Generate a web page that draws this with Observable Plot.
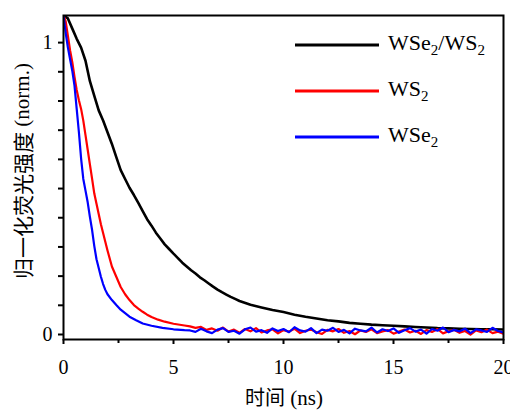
<!DOCTYPE html>
<html><head><meta charset="utf-8">
<script src="https://cdn.jsdelivr.net/npm/d3@7"></script>
<script src="https://cdn.jsdelivr.net/npm/@observablehq/plot@0.6"></script>
<style>
body{margin:0;background:#fff}
#chart{width:510px;height:411px}
#chart svg text, #chart svg tspan{font-family:"Liberation Serif"}
#chart svg text.cjk, #chart svg tspan.cjk{font-family:"Noto Sans CJK SC"}
</style>
</head><body><div id="chart"></div>
<script>
// ---- data ----
const seriesNames = ["WSe2/WS2", "WS2", "WSe2"];
const seriesColors = ["#000000", "#ff0000", "#0000ff"];
const yLabelZh = "\u5f52\u4e00\u5316\u8367\u5149\u5f3a\u5ea6"; // 归一化荧光强度
const xLabelZh = "\u65f6\u95f4"; // 时间

const blackT = [0,0.2,0.4,0.6,0.8,1.0,1.2,1.4,1.6,1.8,2.0,2.2,2.4,2.6,2.8,3.0,3.2,3.4,3.6,3.8,4.0,4.2,4.4,4.6,4.8,5.0,5.2,5.4,5.6,5.8,6.0,6.2,6.4,6.6,6.8,7.0,7.2,7.4,7.6,7.8,8.0,8.5,9.0,9.5,10,10.5,11,11.5,12,12.5,13,13.5,14,14.5,15,15.5,16,16.5,17,17.5,18,18.5,19,19.5,20];
const blackV = [1.11,1.10,1.065,1.03,1.00,0.955,0.885,0.835,0.785,0.75,0.71,0.67,0.625,0.58,0.55,0.52,0.495,0.468,0.44,0.412,0.39,0.366,0.346,0.326,0.31,0.294,0.279,0.263,0.25,0.237,0.226,0.213,0.203,0.192,0.181,0.171,0.162,0.154,0.146,0.139,0.132,0.119,0.110,0.101,0.094,0.085,0.078,0.072,0.066,0.062,0.057,0.054,0.051,0.049,0.047,0.045,0.043,0.041,0.039,0.038,0.037,0.036,0.035,0.035,0.034];

const redT = [0,0.1,0.2,0.3,0.4,0.5,0.6,0.7,0.8,0.9,1.0,1.1,1.2,1.3,1.4,1.5,1.6,1.7,1.8,1.9,2.0,2.2,2.4,2.6,2.8,3.0,3.2,3.4,3.6,3.8,4.0,4.3,4.6,5.0,5.5];
const redV = [1.11,1.09,1.04,0.99,0.95,0.90,0.855,0.82,0.79,0.75,0.70,0.65,0.60,0.55,0.50,0.465,0.43,0.395,0.365,0.335,0.305,0.25,0.215,0.18,0.155,0.135,0.118,0.106,0.095,0.085,0.077,0.068,0.061,0.054,0.048];

const blueT = [0,0.1,0.2,0.3,0.4,0.5,0.6,0.7,0.8,0.9,1.0,1.1,1.2,1.3,1.4,1.5,1.6,1.7,1.8,1.9,2.0,2.2,2.4,2.6,2.8,3.0,3.3,3.6,4.0,4.5,5.0,5.5];
const blueV = [1.11,1.05,1.00,0.96,0.92,0.87,0.79,0.71,0.62,0.55,0.51,0.47,0.42,0.375,0.32,0.275,0.245,0.215,0.19,0.17,0.155,0.135,0.118,0.102,0.09,0.078,0.066,0.055,0.047,0.04,0.035,0.032];

// noisy baseline after the decay (sampled every 0.25 ns from 5.75 ns)
const floorStart = 5.75, floorStep = 0.25;
const redFloor = [0.045,0.040,0.043,0.033,0.038,0.030,0.041,0.027,0.034,0.023,
  0.036,0.028,0.039,0.024,0.031,0.035,0.021,0.032,0.027,0.037,
  0.022,0.030,0.034,0.025,0.019,0.033,0.028,0.036,0.023,0.029,
  0.018,0.031,0.026,0.035,0.022,0.028,0.032,0.020,0.027,0.034,
  0.024,0.030,0.019,0.032,0.026,0.036,0.021,0.028,0.033,0.023,
  0.029,0.017,0.031,0.025,0.034,0.022,0.027,0.020];
const blueFloor = [0.031,0.026,0.037,0.028,0.022,0.034,0.039,0.026,0.030,0.020,
  0.035,0.041,0.027,0.032,0.023,0.038,0.029,0.036,0.025,0.042,
  0.031,0.027,0.039,0.022,0.034,0.030,0.040,0.026,0.033,0.021,
  0.037,0.031,0.028,0.041,0.024,0.035,0.029,0.038,0.023,0.032,
  0.039,0.027,0.034,0.020,0.036,0.030,0.041,0.025,0.033,0.028,
  0.037,0.022,0.035,0.031,0.026,0.040,0.029,0.024];

const xTicks = [0,5,10,15,20];
const xMinorTicks = [2.5,7.5,12.5,17.5];
const yTicks = [0,0.1,0.2,0.3,0.4,0.5,0.6,0.7,0.8,0.9,1.0];
const yTickLabels = {0:"0", 1:"1"};

// ---- build tables ----
const pair = (T, V) => T.map((t, i) => ({t, v: V[i]}));
const floorPts = F => F.map((v, i) => ({t: floorStart + i * floorStep, v}));
const black = pair(blackT, blackV);
const red = pair(redT, redV).concat(floorPts(redFloor));
const blue = pair(blueT, blueV).concat(floorPts(blueFloor));

const chart = Plot.plot({
  width: 510, height: 411,
  marginLeft: 63, marginRight: 7, marginTop: 15, marginBottom: 72,
  style: {fontFamily: "Liberation Serif", fontSize: "20px", color: "#000", background: "#fff", overflow: "visible"},
  x: {domain: [0, 20]},
  y: {domain: [0, 1.11]},
  marks: [
    Plot.line(black, {x: "t", y: "v", stroke: seriesColors[0], strokeWidth: 2.6, clip: true}),
    Plot.line(red, {x: "t", y: "v", stroke: seriesColors[1], strokeWidth: 2.2, clip: true}),
    Plot.line(blue, {x: "t", y: "v", stroke: seriesColors[2], strokeWidth: 2.2, clip: true}),
    Plot.axisX({ticks: xMinorTicks, tickSize: 4, tickFormat: () => "", label: null, strokeWidth: 2}),
    Plot.axisX({ticks: xTicks, tickSize: 5, tickPadding: 15, fontSize: 20, label: null, strokeWidth: 2}),
    Plot.axisY({ticks: yTicks, tickSize: 5, tickPadding: 6, fontSize: 20, dy: -5,
      tickFormat: d => yTickLabels[Math.round(d * 10) / 10] ?? "", label: null, strokeWidth: 2}),
    Plot.frame({stroke: "#000", strokeWidth: 2})
  ]
});
document.getElementById("chart").appendChild(chart);

const svg = d3.select(chart);

// y label
const yl = svg.append("text")
  .attr("transform", "translate(22,171) rotate(-90)")
  .attr("text-anchor", "middle").attr("dominant-baseline", "central")
  .attr("fill", "#000");
yl.append("tspan").attr("class", "cjk").attr("font-family", "Noto Sans CJK SC").attr("font-size", 21).text(yLabelZh);
yl.append("tspan").attr("font-family", "Liberation Serif").attr("font-size", 21).text(" (norm.)");

// x label
const xl = svg.append("text")
  .attr("x", 284).attr("y", 405)
  .attr("text-anchor", "middle").attr("fill", "#000");
xl.append("tspan").attr("class", "cjk").attr("font-family", "Noto Sans CJK SC").attr("font-size", 20).text(xLabelZh);
xl.append("tspan").attr("font-family", "Liberation Serif").attr("font-size", 21).text(" (ns)");

// legend
const legendLabels = [["WSe", "2", "/WS", "2"], ["WS", "2"], ["WSe", "2"]];
const legendY = [45, 91, 137];
const lg = svg.append("g");
legendLabels.forEach((parts, i) => {
  lg.append("line").attr("x1", 295).attr("x2", 379).attr("y1", legendY[i]).attr("y2", legendY[i])
    .attr("stroke", seriesColors[i]).attr("stroke-width", 3);
  const t = lg.append("text").attr("x", 388).attr("y", legendY[i] + 5)
    .attr("text-anchor", "start").attr("font-family", "Liberation Serif").attr("font-size", 22).attr("fill", "#000");
  parts.forEach((p, j) => {
    const sub = j % 2 === 1;
    t.append("tspan").attr("font-size", sub ? 15 : 22).attr("dy", sub ? 5 : (j > 0 ? -5 : 0)).text(p);
  });
});
</script></body></html>
